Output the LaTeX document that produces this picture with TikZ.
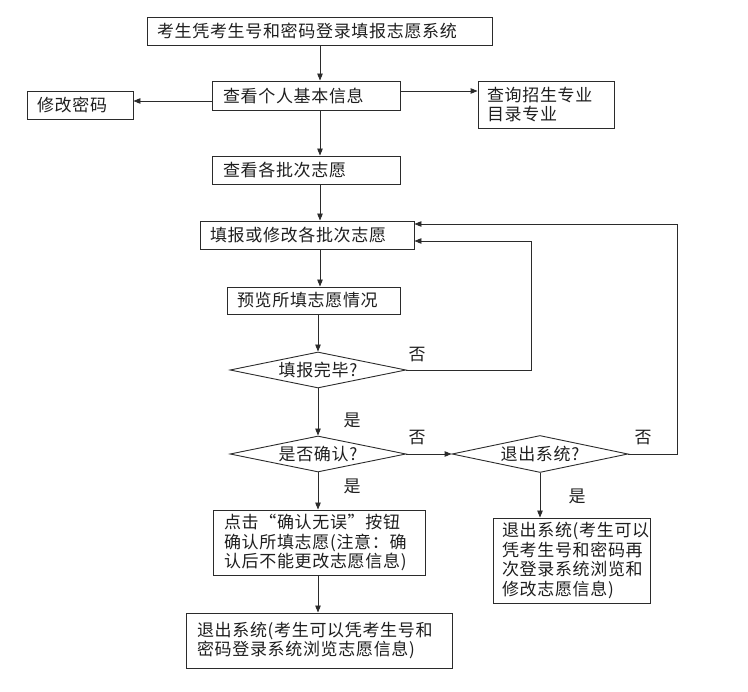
\documentclass[tikz,border=0pt]{standalone}
\usepackage{fontspec}
\newfontfamily\cjk{Noto Sans CJK SC}[LetterSpace=4]
\usepackage{tikz}
\usetikzlibrary{shapes.geometric, arrows.meta, positioning, calc}
\definecolor{linec}{HTML}{2B2B2B}
\definecolor{txt}{HTML}{1E1E1E}

\begin{document}
\begin{tikzpicture}[x=1pt, y=-1pt,
    font=\cjk\fontsize{17pt}{19.5pt}\selectfont, text=txt,
    box/.style={draw=linec, line width=0.9pt, rectangle, inner xsep=10pt, inner ysep=0pt, align=left},
    decide/.style={draw=linec, line width=0.9pt, diamond, aspect=5, inner sep=0pt, minimum width=176pt, minimum height=36pt},
    arr/.style={draw=linec, line width=0.9pt, -{Triangle[length=7pt,width=5.5pt]}},
    lbl/.style={inner sep=0pt}]
    \useasboundingbox (0,0) rectangle (748,692);
    % boxes
    \node[box, text width=325pt, minimum height=28pt] (login) at (319.5,31) {考生凭考生号和密码登录填报志愿系统};
    \node[box, text width=166pt, minimum height=29pt, inner xsep=11pt] (info) at (306,95.5) {查看个人基本信息};
    \node[box, text width=86pt, minimum height=28pt] (pwd) at (80,105) {修改密码};
    \node[box, text width=118pt, minimum height=47pt, inner xsep=9pt] (major) at (546,104.5) {查询招生专业\\目录专业};
    \node[box, text width=166pt, minimum height=28pt, inner xsep=11pt] (batch) at (306,170) {查看各批次志愿};
    \node[box, text width=194pt, minimum height=28pt] (fill) at (307,235) {填报或修改各批次志愿};
    \node[box, text width=153pt, minimum height=27pt] (preview) at (313.5,300.5) {预览所填志愿情况};
    \node[decide] (done) at (318,370) {填报完毕?};
    \node[decide] (confirm) at (318,454) {是否确认?};
    \node[decide, minimum height=37pt] (exit) at (540,454) {退出系统?};
    \node[box, text width=190pt, minimum height=65pt, inner xsep=11pt] (click) at (319,542.5) {点击“确认无误”按钮\\确认所填志愿(注意：确\\认后不能更改志愿信息)};
    \node[box, text width=244pt, minimum height=55pt, inner xsep=11pt] (final) at (319,640.5) {退出系统(考生可以凭考生号和\\密码登录系统浏览志愿信息)\\[4pt]};
    \node[box, text width=139pt, minimum height=85pt, inner xsep=9pt] (exitinfo) at (571.5,560.5) {退出系统(考生可以\\凭考生号和密码再\\次登录系统浏览和\\修改志愿信息)};
    % labels
    \node[lbl] (no1) at (417,355) {否};
    \node[lbl] (no2) at (417,438) {否};
    \node[lbl] (no3) at (643,438) {否};
    \node[lbl] (yes1) at (352,420) {是};
    \node[lbl] (yes2) at (352,486) {是};
    \node[lbl] (yes3) at (577,496) {是};
    % connectors
    \draw[arr] (login.south -| 320,0) -- (info.north -| 320,0);
    \draw[arr] (info.west |- 0,101) -- (pwd.east |- 0,101);
    \draw[arr] (info.east |- 0,91) -- (major.west |- 0,91);
    \draw[arr] (info.south -| 320,0) -- (batch.north -| 320,0);
    \draw[arr] (batch.south -| 320,0) -- (fill.north -| 320,0);
    \draw[arr] (fill.south -| 320,0) -- (preview.north -| 320,0);
    \draw[arr] (preview.south -| done.north) -- (done.north);
    \draw[arr] (done.south) -- (confirm.north);
    \draw[arr] (confirm.south) -- (click.north -| confirm.south);
    \draw[arr] (click.south -| confirm.south) -- (final.north -| confirm.south);
    \draw[arr] (confirm.east) -- (exit.west);
    \draw[arr] (exit.south) -- (exitinfo.north -| exit.south);
    \draw[arr] (done.east) -| (531,241) -- (fill.east |- 0,241);
    \draw[arr] (exit.east) -| (677,224) -- (fill.east |- 0,224);
\end{tikzpicture}
\end{document}
